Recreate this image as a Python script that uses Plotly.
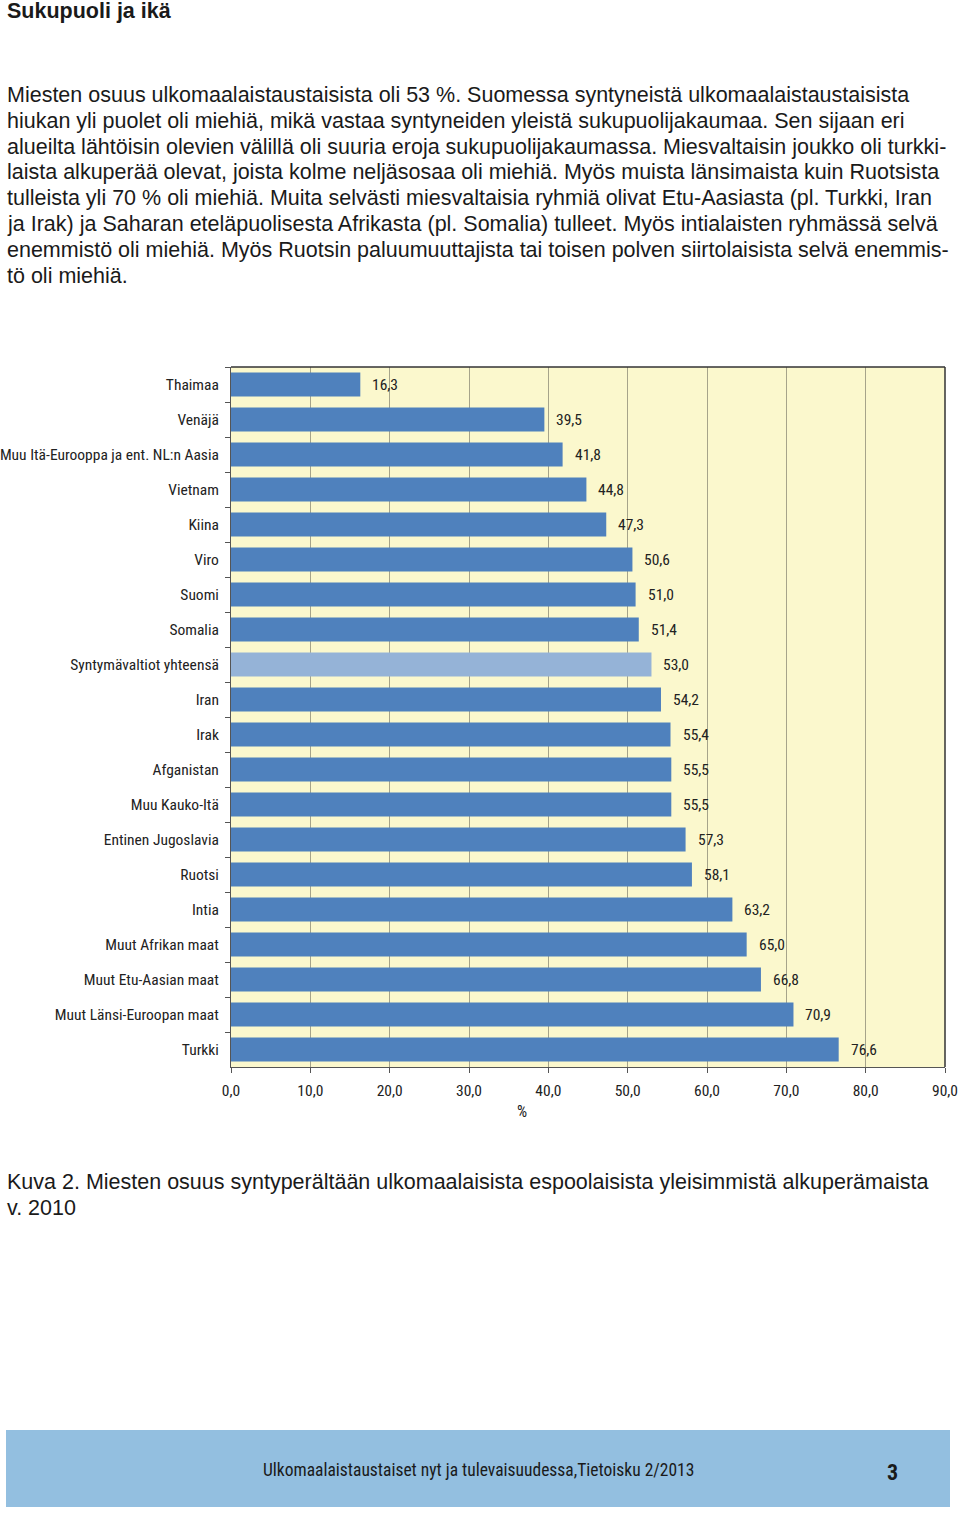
import plotly.graph_objects as go

categories = ["Thaimaa", "Venäjä", "Muu Itä-Eurooppa ja ent. NL:n Aasia", "Vietnam", "Kiina",
              "Viro", "Suomi", "Somalia", "Syntymävaltiot yhteensä", "Iran", "Irak", "Afganistan",
              "Muu Kauko-Itä", "Entinen Jugoslavia", "Ruotsi", "Intia", "Muut Afrikan maat",
              "Muut Etu-Aasian maat", "Muut Länsi-Euroopan maat", "Turkki"]
values = [16.3, 39.5, 41.8, 44.8, 47.3, 50.6, 51.0, 51.4, 53.0, 54.2, 55.4, 55.5,
          55.5, 57.3, 58.1, 63.2, 65.0, 66.8, 70.9, 76.6]
tick_vals = [0, 10, 20, 30, 40, 50, 60, 70, 80, 90]

heading = "Sukupuoli ja ikä"
body_lines = [
    "Miesten osuus ulkomaalaistaustaisista oli 53 %. Suomessa syntyneistä ulkomaalaistaustaisista",
    "hiukan yli puolet oli miehiä, mikä vastaa syntyneiden yleistä sukupuolijakaumaa. Sen sijaan eri",
    "alueilta lähtöisin olevien välillä oli suuria eroja sukupuolijakaumassa. Miesvaltaisin joukko oli turkki-",
    "laista alkuperää olevat, joista kolme neljäsosaa oli miehiä. Myös muista länsimaista kuin Ruotsista",
    "tulleista yli 70 % oli miehiä. Muita selvästi miesvaltaisia ryhmiä olivat Etu-Aasiasta (pl. Turkki, Iran",
    "ja Irak) ja Saharan eteläpuolisesta Afrikasta (pl. Somalia) tulleet. Myös intialaisten ryhmässä selvä",
    "enemmistö oli miehiä. Myös Ruotsin paluumuuttajista tai toisen polven siirtolaisista selvä enemmis-",
    "tö oli miehiä.",
]
caption_lines = ["Kuva 2. Miesten osuus syntyperältään ulkomaalaisista espoolaisista yleisimmistä alkuperämaista",
                 "v. 2010"]
footer_text = "Ulkomaalaistaustaiset nyt ja tulevaisuudessa,Tietoisku 2/2013"
page_no = "3"

W, H = 960, 1513
def px(x): return x / W
def py(y): return 1 - y / H

chart_font = "Liberation Sans Narrow, Arial Narrow, Roboto Condensed, sans-serif"
text_font = "Liberation Sans, Arial, sans-serif"
TXT = 21.5

colors = ["#95B3D7" if c == "Syntymävaltiot yhteensä" else "#4F81BD" for c in categories]

fig = go.Figure()
fig.add_trace(go.Bar(
    x=values, y=categories, orientation="h",
    marker=dict(color=colors, line=dict(width=0)),
    hoverinfo="skip", showlegend=False,
))

annotations = []
for c, v in zip(categories, values):
    annotations.append(dict(x=v, y=c, xref="x", yref="y", text=f"{v:.1f}".replace(".", ","),
                            showarrow=False, xanchor="left", yanchor="middle", xshift=10,
                            font=dict(family=chart_font, size=15.5, color="#222")))

annotations.append(dict(x=px(5), y=py(11), xref="paper", yref="paper", text=f"<b>{heading}</b>",
                        showarrow=False, xanchor="left", yanchor="middle",
                        font=dict(family=text_font, size=TXT, color="#1a1a1a")))
body_y = [95, 121, 147, 172, 198, 224, 250, 276]
for t, yy in zip(body_lines, body_y):
    annotations.append(dict(x=px(5), y=py(yy), xref="paper", yref="paper", text=t,
                            showarrow=False, xanchor="left", yanchor="middle",
                            font=dict(family=text_font, size=TXT, color="#1a1a1a")))
for t, yy in zip(caption_lines, [1182, 1208]):
    annotations.append(dict(x=px(5), y=py(yy), xref="paper", yref="paper", text=t,
                            showarrow=False, xanchor="left", yanchor="middle",
                            font=dict(family=text_font, size=TXT, color="#1a1a1a")))
annotations.append(dict(x=px(522), y=py(1111), xref="paper", yref="paper", text="%",
                        showarrow=False, xanchor="center", yanchor="middle",
                        font=dict(family=chart_font, size=16, color="#222")))
annotations.append(dict(x=px(478), y=py(1470), xref="paper", yref="paper", text=footer_text,
                        showarrow=False, xanchor="center", yanchor="middle",
                        font=dict(family=chart_font, size=17.5, color="#1a1a1a")))
annotations.append(dict(x=px(892), y=py(1472), xref="paper", yref="paper", text=f"<b>{page_no}</b>",
                        showarrow=False, xanchor="center", yanchor="middle",
                        font=dict(family=chart_font, size=22, color="#1a1a1a")))

shapes = [
    dict(type="rect", xref="paper", yref="paper", x0=px(6), x1=px(950), y0=py(1507), y1=py(1430),
         fillcolor="#93BFE0", line=dict(width=0), layer="below"),
    dict(type="line", xref="paper", yref="paper", x0=px(231), x1=px(945), y0=py(367), y1=py(367),
         line=dict(color="#333", width=1.5)),
    dict(type="line", xref="paper", yref="paper", x0=px(945), x1=px(945), y0=py(367), y1=py(1067),
         line=dict(color="#333", width=1.5)),
]

fig.update_layout(
    width=W, height=H, margin=dict(l=0, r=0, t=0, b=0, autoexpand=False),
    paper_bgcolor="white", plot_bgcolor="#FBF8CD",
    separators=", ",
    bargap=0.31,
    xaxis=dict(domain=[px(231), px(945)], range=[0, 90], tickvals=tick_vals, tickformat=".1f",
               showgrid=True, gridcolor="#A6A48A", gridwidth=1, zeroline=False, automargin=False,
               showline=True, linecolor="#555", linewidth=1, ticks="outside", ticklen=5,
               tickcolor="#555", tickfont=dict(family=chart_font, size=15.5, color="#222"),
               ticklabelstandoff=4, fixedrange=True),
    yaxis=dict(domain=[py(1067), py(367)], autorange="reversed", type="category", automargin=False,
               showgrid=False, showline=True, linecolor="#555", linewidth=1,
               ticks="outside", ticklen=5, tickcolor="#555", tickson="boundaries",
               tickfont=dict(family=chart_font, size=15.5, color="#222"), ticklabelstandoff=8,
               fixedrange=True),
    annotations=annotations, shapes=shapes,
)

fig.write_html("out.html", config={"displayModeBar": False},
               post_script="document.body.style.margin='0';")
